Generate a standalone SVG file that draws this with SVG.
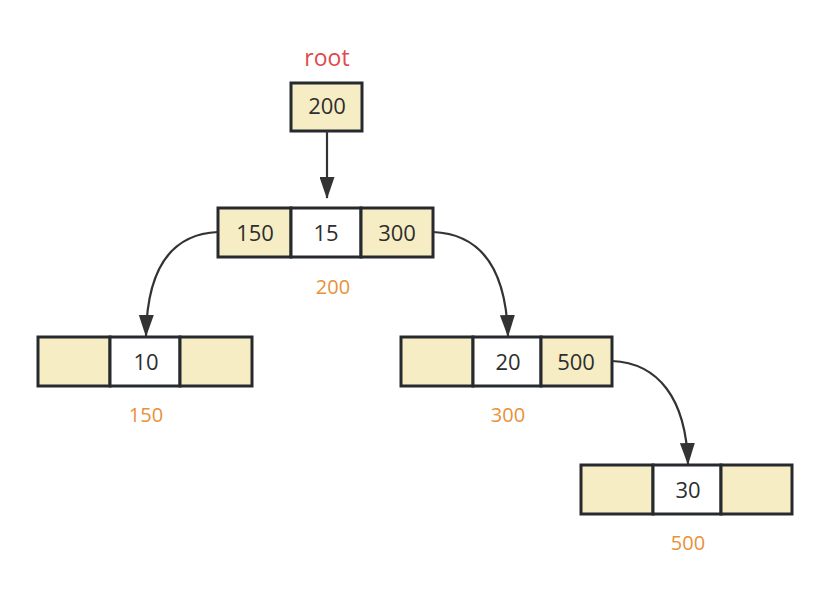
<svg xmlns="http://www.w3.org/2000/svg" width="829" height="599" viewBox="0 0 829 599">
  <style>
    .key { fill: #f6edc4; stroke: #262a2e; stroke-width: 3; }
    .ptr { fill: #ffffff; stroke: #262a2e; stroke-width: 3; }
    .val { font-family: "Open Sans", "Noto Sans", sans-serif; font-size: 22px; fill: #2e2e2e; text-anchor: middle; }
    .addr { font-family: "Open Sans", "Noto Sans", sans-serif; font-size: 20px; fill: #e8913a; text-anchor: middle; }
    .root { font-family: "Open Sans", "Noto Sans", sans-serif; font-size: 23px; fill: #e04b4b; text-anchor: middle; }
    .edge { fill: none; stroke: #333333; stroke-width: 2.2; marker-end: url(#head); }
  </style>
  <defs>
    <marker id="head" viewBox="0 0 22 15" refX="21" refY="7.5" markerWidth="22" markerHeight="15" markerUnits="userSpaceOnUse" orient="auto">
      <path d="M0,0 L22,7.5 L0,15 Z" fill="#333333"/>
    </marker>
  </defs>
  <rect width="829" height="599" fill="#ffffff"/>

  <g id="root">
    <text class="root" x="327" y="66">root</text>
    <rect class="key" x="291" y="83" width="71" height="48"/>
    <text class="val" x="327" y="114">200</text>
  </g>

  <g id="node-200">
    <rect class="key" x="218" y="208" width="73" height="49"/>
    <rect class="ptr" x="291" y="208" width="70" height="49"/>
    <rect class="key" x="361" y="208" width="72" height="49"/>
    <text class="val" x="255" y="241">150</text>
    <text class="val" x="326" y="241">15</text>
    <text class="val" x="397" y="241">300</text>
    <text class="addr" x="333" y="294">200</text>
  </g>

  <g id="node-150">
    <rect class="key" x="38" y="337" width="72" height="49"/>
    <rect class="ptr" x="110" y="337" width="70" height="49"/>
    <rect class="key" x="180" y="337" width="72" height="49"/>
    <text class="val" x="146" y="370">10</text>
    <text class="addr" x="146" y="422">150</text>
  </g>

  <g id="node-300">
    <rect class="key" x="401" y="337" width="72" height="49"/>
    <rect class="ptr" x="473" y="337" width="68" height="49"/>
    <rect class="key" x="541" y="337" width="71" height="49"/>
    <text class="val" x="508" y="370">20</text>
    <text class="val" x="576" y="370">500</text>
    <text class="addr" x="508" y="422">300</text>
  </g>

  <g id="node-500">
    <rect class="key" x="581" y="465" width="72" height="49"/>
    <rect class="ptr" x="653" y="465" width="68" height="49"/>
    <rect class="key" x="721" y="465" width="71" height="49"/>
    <text class="val" x="688" y="498">30</text>
    <text class="addr" x="688" y="550">500</text>
  </g>

  <g id="connectors">
    <path class="edge" d="M327,131 L327,198"/>
    <path class="edge" d="M218,232 C172,234 147,268 146,336"/>
    <path class="edge" d="M433,232 C480,234 506,268 508,336"/>
    <path class="edge" d="M612,361 C658,363 686,398 688,464"/>
  </g>
</svg>
